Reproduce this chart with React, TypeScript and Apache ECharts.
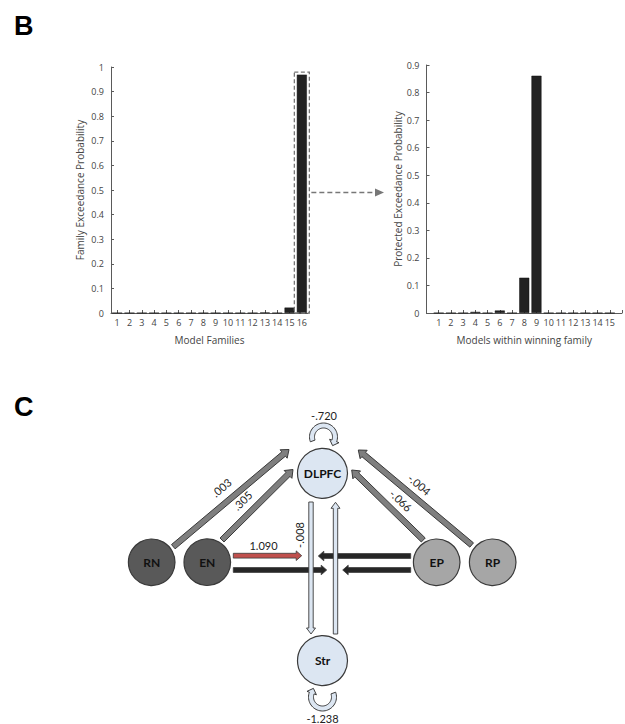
import React, { useEffect, useRef } from "react";
import * as echarts from "echarts";

// ---- Panel B data ----
const familyCategories = ["1", "2", "3", "4", "5", "6", "7", "8", "9", "10", "11", "12", "13", "14", "15", "16"];
const familyExceedance = [0, 0, 0, 0, 0, 0, 0, 0, 0, 0, 0, 0, 0.002, 0, 0.022, 0.969];
const modelNumbers = [1, 2, 3, 4, 5, 6, 7, 8, 9, 10, 11, 12, 13, 14, 15];
const modelExceedance = [0, 0, 0, 0.004, 0, 0.009, 0, 0.128, 0.861, 0, 0, 0, 0, 0, 0];

// ---- Panel C data ----
const nodeNames = ["DLPFC", "Str", "RN", "EN", "EP", "RP"];
const connFrom = ["RN", "EN", "RP", "EP", "EN", "DLPFC"];
const connTo = ["DLPFC", "DLPFC", "DLPFC", "DLPFC", "input", "Str"];
const connLabels = [".003", ".305", "-.004", "-.066", "1.090", "-.008"];
const selfNodes = ["DLPFC", "Str"];
const selfLabels = ["-.720", "-1.238"];

type P = [number, number];

function blockArrow(a: P, b: P, shaft: number, head: number, headLen: number): P[] {
  const dx = b[0] - a[0], dy = b[1] - a[1];
  const L = Math.hypot(dx, dy);
  const ux = dx / L, uy = dy / L;
  const nx = -uy, ny = ux;
  const bx = b[0] - ux * headLen, by = b[1] - uy * headLen;
  return [
    [a[0] + nx * shaft, a[1] + ny * shaft],
    [bx + nx * shaft, by + ny * shaft],
    [bx + nx * head, by + ny * head],
    [b[0], b[1]],
    [bx - nx * head, by - ny * head],
    [bx - nx * shaft, by - ny * shaft],
    [a[0] - nx * shaft, a[1] - ny * shaft],
  ];
}

function loopArrow(cx: number, cy: number, rIn: number, rOut: number, a0: number, a1: number, headHalf: number, headLen: number): P[] {
  const pts: P[] = [];
  const n = 40;
  const rad = (d: number) => (d * Math.PI) / 180;
  for (let i = 0; i <= n; i++) {
    const t = rad(a0 + ((a1 - a0) * i) / n);
    pts.push([cx + rOut * Math.cos(t), cy + rOut * Math.sin(t)]);
  }
  const te = rad(a1);
  const rm = (rIn + rOut) / 2;
  const tx = -Math.sin(te), ty = Math.cos(te);
  pts.push([cx + (rm + headHalf) * Math.cos(te), cy + (rm + headHalf) * Math.sin(te)]);
  pts.push([cx + rm * Math.cos(te) + tx * headLen, cy + rm * Math.sin(te) + ty * headLen]);
  pts.push([cx + (rm - headHalf) * Math.cos(te), cy + (rm - headHalf) * Math.sin(te)]);
  for (let i = n; i >= 0; i--) {
    const t = rad(a0 + ((a1 - a0) * i) / n);
    pts.push([cx + rIn * Math.cos(t), cy + rIn * Math.sin(t)]);
  }
  return pts;
}

export default function App() {
  const ref = useRef<HTMLDivElement>(null);

  useEffect(() => {
    if (!ref.current) return;
    const chart = echarts.init(ref.current, undefined, { renderer: "svg" });

    const axisColor = "#5a5a5a";
    const labelColor = "#444";
    const font = "Open Sans";

    // diagram layout (pixel positions)
    const nodePos: Record<string, { c: P; r: number; fill: string }> = {
      DLPFC: { c: [322.5, 473.3], r: 25, fill: "#dce6f2" },
      Str: { c: [322.5, 660.7], r: 25, fill: "#dce6f2" },
      RN: { c: [151.7, 562.3], r: 23.3, fill: "#595959" },
      EN: { c: [207.3, 562.2], r: 23.3, fill: "#595959" },
      EP: { c: [436.7, 562.3], r: 23.3, fill: "#a6a6a6" },
      RP: { c: [492.7, 562.3], r: 23.3, fill: "#a6a6a6" },
    };
    const stroke = "#3a3a3a";

    const diag: any[] = [];
    // diagonal grey arrows
    const diagArrows: [P, P][] = [
      [[173.3, 546.7], [289, 449.5]],
      [[222, 540], [293, 469.5]],
      [[471.7, 545], [358.3, 450]],
      [[423.3, 540], [351.7, 470]],
    ];
    diagArrows.forEach(([a, b]) => {
      diag.push({
        type: "polygon", z: 10,
        shape: { points: blockArrow(a, b, 2.8, 5.5, 7) },
        style: { fill: "#7f7f7f", stroke, lineWidth: 1 },
      });
    });
    const diagLabelPos: { p: P; rot: number }[] = [
      { p: [221.5, 487.5], rot: 0.7 },
      { p: [242.5, 500.5], rot: 0.77 },
      { p: [419.5, 484.5], rot: -0.7 },
      { p: [401, 500.5], rot: -0.77 },
      { p: [263.5, 545], rot: 0 },
      { p: [299.5, 535], rot: Math.PI / 2 },
    ];
    connLabels.forEach((t, i) => {
      diag.push({
        type: "text", z: 15,
        x: diagLabelPos[i].p[0], y: diagLabelPos[i].p[1], rotation: diagLabelPos[i].rot,
        style: { text: t, align: "center", verticalAlign: "middle", font: "11px Lato", fill: "#222" },
      });
    });

    // horizontal arrows
    const hArrows: { a: P; b: P; fill: string }[] = [
      { a: [233.3, 555.7], b: [301.7, 555.7], fill: "#c0504d" },
      { a: [233.3, 570], b: [326.7, 570], fill: "#262626" },
      { a: [410.7, 556], b: [318.3, 556], fill: "#262626" },
      { a: [410.7, 570], b: [342.7, 570], fill: "#262626" },
    ];
    hArrows.forEach((h) => {
      diag.push({
        type: "polygon", z: 10,
        shape: { points: blockArrow(h.a, h.b, 2.4, 4.8, 5.5) },
        style: { fill: h.fill, stroke, lineWidth: 0.8 },
      });
    });

    // vertical arrows
    const vArrows: [P, P][] = [
      [[311, 502], [311, 634]],
      [[335.5, 634], [335.5, 502.3]],
    ];
    vArrows.forEach(([a, b]) => {
      diag.push({
        type: "polygon", z: 12,
        shape: { points: blockArrow(a, b, 2.2, 4.5, 6) },
        style: { fill: "#dce6f2", stroke, lineWidth: 0.9 },
      });
    });

    // self loops
    const dl = nodePos[selfNodes[0]].c;
    const st = nodePos[selfNodes[1]].c;
    diag.push({
      type: "polygon", z: 12,
      shape: { points: loopArrow(dl[0] + 1, 437, 9, 14, 160, 380, 5, 5) },
      style: { fill: "#dce6f2", stroke, lineWidth: 1 },
    });
    diag.push({
      type: "polygon", z: 12,
      shape: { points: loopArrow(st[0], 697, 9, 14, -20, 200, 5, 5) },
      style: { fill: "#dce6f2", stroke, lineWidth: 1 },
    });
    diag.push({
      type: "text", z: 15, x: dl[0] + 1.5, y: 415,
      style: { text: selfLabels[0], align: "center", verticalAlign: "middle", font: "11px Lato", fill: "#222" },
    });
    diag.push({
      type: "text", z: 15, x: st[0], y: 718,
      style: { text: selfLabels[1], align: "center", verticalAlign: "middle", font: "11px Lato", fill: "#222" },
    });

    // nodes
    nodeNames.forEach((n) => {
      const np = nodePos[n];
      diag.push({
        type: "circle", z: 13,
        shape: { cx: np.c[0], cy: np.c[1], r: np.r },
        style: { fill: np.fill, stroke, lineWidth: 1.2 },
      });
      diag.push({
        type: "text", z: 14, x: np.c[0], y: np.c[1],
        style: { text: n, align: "center", verticalAlign: "middle", font: "bold 12px Lato", fill: "#111" },
      });
    });

    // panel letters
    diag.push({
      type: "text", z: 20, x: 14, y: 12,
      style: { text: "B", align: "left", verticalAlign: "top", font: "bold 27px 'Liberation Sans'", fill: "#000" },
    });
    diag.push({
      type: "text", z: 20, x: 14, y: 393,
      style: { text: "C", align: "left", verticalAlign: "top", font: "bold 27px 'Liberation Sans'", fill: "#000" },
    });

    const axisCommon = {
      axisLine: { show: true, lineStyle: { color: axisColor, width: 1 } },
      axisTick: { show: true, inside: true, length: 3, lineStyle: { color: axisColor } },
      splitLine: { show: false },
      nameLocation: "middle" as const,
      nameTextStyle: { color: labelColor, fontSize: 10, fontFamily: font },
    };

    const option: any = {
      animation: false,
      textStyle: { fontFamily: font },
      grid: [
        { left: 111, top: 67, width: 197, height: 246 },
        { left: 426.5, top: 65, width: 197, height: 248 },
      ],
      xAxis: [
        {
          ...axisCommon,
          gridIndex: 0, type: "category", data: familyCategories, boundaryGap: true,
          axisTick: { ...axisCommon.axisTick, alignWithLabel: true, interval: 0 },
          axisLabel: { color: labelColor, fontSize: 9, margin: 5, interval: 0 },
          name: "Model Families", nameGap: 22,
        },
        {
          ...axisCommon,
          gridIndex: 1, type: "value", min: 0, max: 16, interval: 1,
          axisLabel: {
            color: labelColor, fontSize: 9, margin: 5,
            formatter: (v: number) => (v >= modelNumbers[0] && v <= modelNumbers[modelNumbers.length - 1] ? String(v) : ""),
          },
          name: "Models within winning family", nameGap: 22,
        },
      ],
      yAxis: [
        {
          ...axisCommon,
          gridIndex: 0, type: "value", min: 0, max: 1, interval: 0.1,
          axisLabel: { color: labelColor, fontSize: 9, margin: 7 },
          name: "Family Exceedance Probability", nameGap: 26,
        },
        {
          ...axisCommon,
          gridIndex: 1, type: "value", min: 0, max: 0.9, interval: 0.1,
          axisLabel: { color: labelColor, fontSize: 9, margin: 7 },
          name: "Protected Exceedance Probability", nameGap: 23,
        },
      ],
      series: [
        {
          type: "bar", xAxisIndex: 0, yAxisIndex: 0, data: familyExceedance, barWidth: 10,
          itemStyle: { color: "#222", borderColor: "#111", borderWidth: 0.5 },
        },
        {
          type: "bar", xAxisIndex: 1, yAxisIndex: 1, data: modelExceedance.map((v, i) => [modelNumbers[i], v]), barWidth: 10,
          itemStyle: { color: "#222", borderColor: "#111", borderWidth: 0.5 },
        },
      ],
      graphic: diag,
    };
    chart.setOption(option);

    // dashed box around winning family and dashed arrow to right panel
    const win = familyExceedance.length - 1;
    const pBase = chart.convertToPixel({ gridIndex: 0 }, [win, 0]) as number[];
    const pTop = chart.convertToPixel({ gridIndex: 0 }, [win, familyExceedance[win]]) as number[];
    const boxX = pBase[0] - 7.5, boxY = pTop[1] - 2.5;
    const boxW = 15, boxH = pBase[1] - boxY;
    const midY = boxY + boxH * 0.5;
    const extra = [
      {
        type: "rect", z: 20,
        shape: { x: boxX, y: boxY, width: boxW, height: boxH },
        style: { fill: "none", stroke: "#777", lineWidth: 1.3, lineDash: [4, 2.5] },
      },
      {
        type: "line", z: 20,
        shape: { x1: boxX + boxW + 2, y1: midY, x2: 376, y2: midY },
        style: { stroke: "#777", lineWidth: 1.5, lineDash: [5, 3] },
      },
      {
        type: "polygon", z: 20,
        shape: { points: [[375, midY - 4], [384, midY], [375, midY + 4]] },
        style: { fill: "#777" },
      },
    ];
    chart.setOption({ graphic: [...diag, ...extra] });

    return () => chart.dispose();
  }, []);

  return <div ref={ref} style={{ position: "absolute", left: 0, top: 0, width: 625, height: 724 }} />;
}
